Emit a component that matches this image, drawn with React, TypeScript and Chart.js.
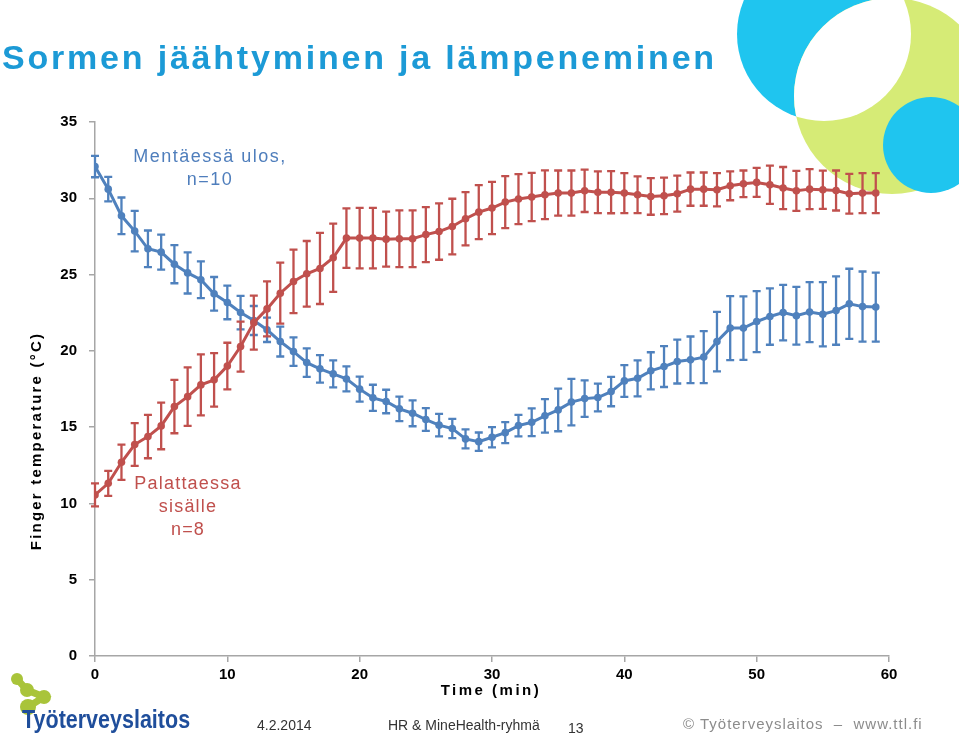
import React, { useEffect, useRef } from "react";
import { Chart, registerables } from "chart.js";

Chart.register(...registerables);

const minutes: number[] = Array.from({ length: 60 }, (_, i) => i);

const outValues: number[] = [
  32.08, 30.6, 28.85, 27.85, 26.69, 26.47, 25.68, 25.11, 24.66, 23.74,
  23.17, 22.51, 21.99, 21.38, 20.61, 19.95, 19.23, 18.82, 18.49, 18.16,
  17.49, 16.92, 16.68, 16.2, 15.91, 15.5, 15.13, 14.91, 14.23, 14.05,
  14.34, 14.64, 15.1, 15.32, 15.74, 16.13, 16.64, 16.87, 16.94, 17.33,
  18.03, 18.2, 18.69, 18.97, 19.3, 19.41, 19.59, 20.61, 21.49, 21.49,
  21.92, 22.25, 22.51, 22.3, 22.54, 22.4, 22.64, 23.08, 22.9, 22.87,
];
const outErrors: number[] = [
  0.7, 0.8, 1.2, 1.33, 1.2, 1.15, 1.25, 1.35, 1.2, 1.1,
  1.1, 1.1, 0.95, 0.8, 0.98, 0.93, 0.93, 0.9, 0.89, 0.82,
  0.82, 0.86, 0.77, 0.8, 0.85, 0.75, 0.74, 0.63, 0.62, 0.6,
  0.66, 0.69, 0.7, 0.91, 1.1, 1.4, 1.52, 1.2, 0.91, 0.96,
  1.04, 1.18, 1.22, 1.34, 1.44, 1.53, 1.7, 1.95, 2.1, 2.08,
  2.0, 1.85, 1.82, 1.89, 1.97, 2.1, 2.24, 2.3, 2.3, 2.26,
];
const inValues: number[] = [
  10.56, 11.32, 12.7, 13.86, 14.38, 15.08, 16.35, 17.0, 17.77, 18.1,
  19.0, 20.28, 21.85, 22.75, 23.78, 24.55, 25.05, 25.4, 26.1, 27.39,
  27.39, 27.39, 27.32, 27.35, 27.35, 27.62, 27.82, 28.15, 28.66, 29.09,
  29.36, 29.75, 29.95, 30.08, 30.23, 30.34, 30.34, 30.49, 30.4, 30.4,
  30.34, 30.23, 30.12, 30.16, 30.3, 30.6, 30.6, 30.56, 30.82, 30.95,
  31.04, 30.89, 30.67, 30.49, 30.6, 30.56, 30.51, 30.3, 30.34, 30.34,
];
const inErrors: number[] = [
  0.75, 0.82, 1.15, 1.4, 1.42, 1.53, 1.75, 1.92, 2.0, 1.75,
  1.53, 1.64, 1.77, 1.8, 2.0, 2.08, 2.15, 2.33, 2.24, 1.95,
  1.98, 1.98, 1.8, 1.86, 1.86, 1.8, 1.85, 1.82, 1.75, 1.77,
  1.71, 1.7, 1.64, 1.58, 1.6, 1.48, 1.48, 1.39, 1.37, 1.38,
  1.31, 1.2, 1.2, 1.2, 1.18, 1.09, 1.09, 1.09, 0.95, 0.87,
  0.95, 1.25, 1.38, 1.31, 1.31, 1.25, 1.31, 1.3, 1.31, 1.31,
];

const xTicks: number[] = [0, 10, 20, 30, 40, 50, 60];
const yTicks: number[] = [0, 5, 10, 15, 20, 25, 30, 35];

const BLUE = "#4F81BD";
const RED = "#C0504D";

const errorBarPlugin = {
  id: "errorBars",
  beforeDatasetDraw(chart: any, args: any) {
    const ds = chart.data.datasets[args.index];
    const errs: number[] = ds.errors;
    if (!errs) return;
    const ctx = chart.ctx;
    const xs = chart.scales.x;
    const ys = chart.scales.y;
    ctx.save();
    ctx.strokeStyle = ds.borderColor;
    ctx.lineWidth = 2.3;
    ds.data.forEach((p: any, i: number) => {
      const x = xs.getPixelForValue(p.x);
      const y1 = ys.getPixelForValue(p.y + errs[i]);
      const y2 = ys.getPixelForValue(p.y - errs[i]);
      ctx.beginPath();
      ctx.moveTo(x, y1);
      ctx.lineTo(x, y2);
      ctx.moveTo(x - 4, y1);
      ctx.lineTo(x + 4, y1);
      ctx.moveTo(x - 4, y2);
      ctx.lineTo(x + 4, y2);
      ctx.stroke();
    });
    ctx.restore();
  },
  afterDraw(chart: any) {
    const ctx = chart.ctx;
    const area = chart.chartArea;
    ctx.save();
    ctx.fillStyle = "#000";
    ctx.font = "bold 15px 'Liberation Sans', Arial, sans-serif";
    (ctx as any).letterSpacing = "2.2px";
    ctx.textAlign = "center";
    ctx.textBaseline = "middle";
    ctx.translate(37, 441);
    ctx.rotate(-Math.PI / 2);
    ctx.fillText("Finger temperature (°C)", 0, 0);
    ctx.restore();
    ctx.save();
    ctx.fillStyle = "#000";
    ctx.font = "bold 15px 'Liberation Sans', Arial, sans-serif";
    (ctx as any).letterSpacing = "2.5px";
    ctx.textAlign = "center";
    ctx.textBaseline = "middle";
    ctx.fillText("Time (min)", (area.left + area.right) / 2 - 1, 691);
    ctx.restore();
  },
};

function ChartView() {
  const ref = useRef<HTMLCanvasElement | null>(null);
  useEffect(() => {
    if (!ref.current) return;
    const chart = new Chart(ref.current, {
      type: "line",
      data: {
        datasets: [
          {
            label: "Palattaessa sisälle n=8",
            data: minutes.map((m, i) => ({ x: m, y: inValues[i] })),
            errors: inErrors,
            borderColor: RED,
            backgroundColor: RED,
            borderWidth: 3,
            pointRadius: 3.8,
            pointBorderWidth: 0,
            tension: 0,
          } as any,
          {
            label: "Mentäessä ulos, n=10",
            data: minutes.map((m, i) => ({ x: m, y: outValues[i] })),
            errors: outErrors,
            borderColor: BLUE,
            backgroundColor: BLUE,
            borderWidth: 3,
            pointRadius: 3.8,
            pointBorderWidth: 0,
            tension: 0,
          } as any,
        ],
      },
      options: {
        animation: false,
        responsive: false,
        maintainAspectRatio: false,
        layout: { padding: { left: 0, right: 70, top: 122, bottom: 0 } },
        plugins: { legend: { display: false }, tooltip: { enabled: false } },
        scales: {
          x: {
            type: "linear",
            min: 0,
            max: 60,
            afterFit: (s: any) => {
              s.height = 81;
            },
            afterBuildTicks: (s: any) => {
              s.ticks = xTicks.map((v) => ({ value: v }));
            },
            grid: {
              drawOnChartArea: false,
              drawTicks: true,
              tickLength: 6,
              color: "#A6A6A6",
              lineWidth: 1.5,
            },
            border: { color: "#A6A6A6", width: 1.5 },
            ticks: {
              color: "#000",
              padding: 4,
              font: { family: "'Liberation Sans', Arial, sans-serif", size: 15, weight: "bold" },
            },
          },
          y: {
            type: "linear",
            min: 0,
            max: 35,
            afterFit: (s: any) => {
              s.width = 95;
            },
            afterBuildTicks: (s: any) => {
              s.ticks = yTicks.map((v) => ({ value: v }));
            },
            grid: {
              drawOnChartArea: false,
              drawTicks: true,
              tickLength: 6,
              color: "#A6A6A6",
              lineWidth: 1.5,
            },
            border: { color: "#A6A6A6", width: 1.5 },
            ticks: {
              color: "#000",
              padding: 12,
              font: { family: "'Liberation Sans', Arial, sans-serif", size: 15, weight: "bold" },
            },
          },
        },
      } as any,
      plugins: [errorBarPlugin],
    });
    return () => chart.destroy();
  }, []);
  return (
    <canvas
      ref={ref}
      width={959}
      height={737}
      style={{ position: "absolute", left: 0, top: 0, width: 959, height: 737 }}
    />
  );
}

const abs = (o: React.CSSProperties): React.CSSProperties => ({
  position: "absolute",
  whiteSpace: "nowrap",
  fontFamily: "'Liberation Sans', Arial, sans-serif",
  ...o,
});

export default function App() {
  return (
    <div
      style={{
        position: "absolute",
        left: 0,
        top: 0,
        width: 959,
        height: 737,
        overflow: "hidden",
        background: "#fff",
      }}
    >
      <svg width={959} height={737} style={{ position: "absolute", left: 0, top: 0 }}>
        <defs>
          <clipPath id="blueClip">
            <circle cx={824} cy={34} r={87} />
          </clipPath>
        </defs>
        <circle cx={824} cy={34} r={87} fill="#1FC5EF" />
        <circle cx={892} cy={96} r={98} fill="#D6EB76" />
        <circle cx={892} cy={96} r={98} fill="#fff" clipPath="url(#blueClip)" />
        <circle cx={931} cy={145} r={48} fill="#1FC5EF" />
        <g fill="#A9C43A">
          <circle cx={17} cy={679} r={6} />
          <circle cx={27} cy={690} r={7} />
          <circle cx={44} cy={697} r={7} />
          <circle cx={28} cy={707} r={8} />
          <path d="M17 679 L27 690 L44 697 L28 707" stroke="#A9C43A" strokeWidth={7} fill="none" />
        </g>
      </svg>
      <ChartView />
      <div
        style={abs({
          left: 2,
          top: 37,
          fontSize: 34,
          color: "#1C9AD6",
          letterSpacing: 2.8,
          fontWeight: "bold",
          lineHeight: "40px",
        })}
      >
        Sormen jäähtyminen ja lämpeneminen
      </div>
      <div
        style={abs({
          left: 110,
          top: 145,
          width: 200,
          textAlign: "center",
          fontSize: 18,
          lineHeight: "23px",
          letterSpacing: 1.5,
          color: "#4F7EBC",
        })}
      >
        Mentäessä ulos,
        <br />
        n=10
      </div>
      <div
        style={abs({
          left: 88,
          top: 472,
          width: 200,
          textAlign: "center",
          fontSize: 18,
          lineHeight: "23px",
          letterSpacing: 1.2,
          color: "#C0504D",
        })}
      >
        Palattaessa
        <br />
        sisälle
        <br />
        n=8
      </div>
      <div
        style={abs({
          left: 22,
          top: 704,
          fontSize: 25,
          fontWeight: "bold",
          color: "#1F4E9B",
          transform: "scaleX(0.86)",
          transformOrigin: "left top",
          lineHeight: "30px",
        })}
      >
        Työterveyslaitos
      </div>
      <div style={abs({ left: 257, top: 717, fontSize: 14, color: "#333", lineHeight: "16px" })}>4.2.2014</div>
      <div style={abs({ left: 388, top: 717, fontSize: 14, color: "#333", lineHeight: "16px" })}>
        HR &amp; MineHealth-ryhmä
      </div>
      <div style={abs({ left: 568, top: 720, fontSize: 14, color: "#333", lineHeight: "16px" })}>13</div>
      <div
        style={abs({
          left: 683,
          top: 715,
          fontSize: 15,
          color: "#8C8C8C",
          letterSpacing: 1,
          lineHeight: "18px",
        })}
      >
        © Työterveyslaitos &nbsp;– &nbsp;www.ttl.fi
      </div>
    </div>
  );
}
